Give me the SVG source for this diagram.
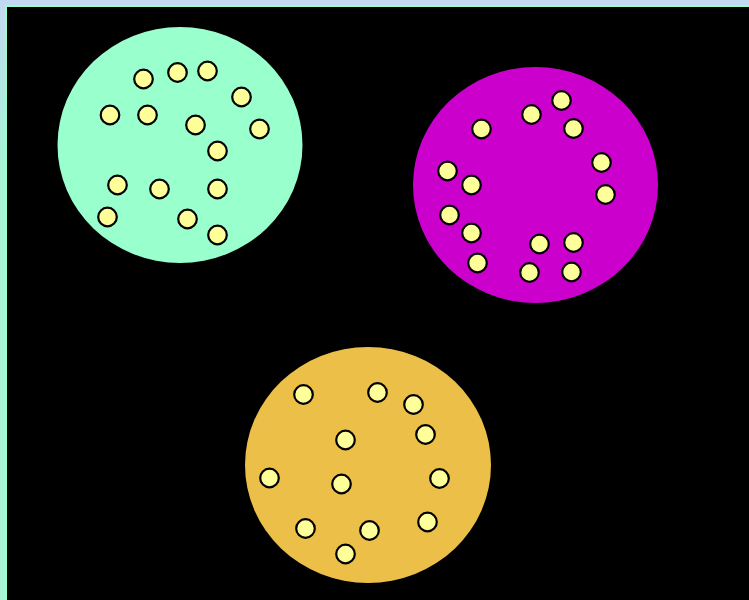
<svg xmlns="http://www.w3.org/2000/svg" width="749" height="600" viewBox="0 0 749 600">
<defs>
<linearGradient id="bg" x1="0" y1="0" x2="0" y2="1">
<stop offset="0" stop-color="#c4d8f2"/>
<stop offset="0.25" stop-color="#a8f2d8"/>
<stop offset="1" stop-color="#a8f2d8"/>
</linearGradient>
<style>
.dot{fill:#ffff99;stroke:#000;stroke-width:2.2}
</style>
</defs>
<rect x="0" y="0" width="749" height="600" fill="url(#bg)"/>
<rect x="5" y="5" width="744" height="595" fill="#99ffcc"/>
<rect x="7" y="7" width="742" height="593" fill="#000"/>
<g id="cluster-green">
<ellipse cx="180" cy="145" rx="122.5" ry="118" fill="#99ffcc"/>
<circle class="dot" cx="143.5" cy="79" r="9.3"/>
<circle class="dot" cx="177.5" cy="72.5" r="9.3"/>
<circle class="dot" cx="207.5" cy="71" r="9.3"/>
<circle class="dot" cx="241.5" cy="97" r="9.3"/>
<circle class="dot" cx="259.5" cy="129" r="9.3"/>
<circle class="dot" cx="110" cy="115" r="9.3"/>
<circle class="dot" cx="147.5" cy="115" r="9.3"/>
<circle class="dot" cx="195.5" cy="125" r="9.3"/>
<circle class="dot" cx="217.5" cy="151" r="9.3"/>
<circle class="dot" cx="117.5" cy="185" r="9.3"/>
<circle class="dot" cx="159.5" cy="189" r="9.3"/>
<circle class="dot" cx="217.5" cy="189" r="9.3"/>
<circle class="dot" cx="107.5" cy="217" r="9.3"/>
<circle class="dot" cx="187.5" cy="219" r="9.3"/>
<circle class="dot" cx="217.5" cy="235" r="9.3"/>
</g>
<g id="cluster-purple">
<ellipse cx="535.5" cy="185" rx="122.5" ry="118" fill="#cc00cc"/>
<circle class="dot" cx="561.5" cy="100.5" r="9.3"/>
<circle class="dot" cx="531.5" cy="114.5" r="9.3"/>
<circle class="dot" cx="481.5" cy="129" r="9.3"/>
<circle class="dot" cx="573.5" cy="128.5" r="9.3"/>
<circle class="dot" cx="601.5" cy="162.5" r="9.3"/>
<circle class="dot" cx="605.5" cy="194.5" r="9.3"/>
<circle class="dot" cx="447.5" cy="171" r="9.3"/>
<circle class="dot" cx="471.5" cy="185" r="9.3"/>
<circle class="dot" cx="449.5" cy="215" r="9.3"/>
<circle class="dot" cx="471.5" cy="233" r="9.3"/>
<circle class="dot" cx="477.5" cy="263" r="9.3"/>
<circle class="dot" cx="539.5" cy="244" r="9.3"/>
<circle class="dot" cx="573.5" cy="242.5" r="9.3"/>
<circle class="dot" cx="529.5" cy="272.5" r="9.3"/>
<circle class="dot" cx="571.5" cy="272" r="9.3"/>
</g>
<g id="cluster-orange">
<ellipse cx="368" cy="465" rx="123" ry="118" fill="#ecbf48"/>
<circle class="dot" cx="303.5" cy="394.5" r="9.3"/>
<circle class="dot" cx="377.5" cy="392.5" r="9.3"/>
<circle class="dot" cx="413.5" cy="404.5" r="9.3"/>
<circle class="dot" cx="345.5" cy="440" r="9.3"/>
<circle class="dot" cx="425.5" cy="434.5" r="9.3"/>
<circle class="dot" cx="269.5" cy="478" r="9.3"/>
<circle class="dot" cx="341.5" cy="484" r="9.3"/>
<circle class="dot" cx="439.5" cy="478.5" r="9.3"/>
<circle class="dot" cx="305.5" cy="528.5" r="9.3"/>
<circle class="dot" cx="369.5" cy="530.5" r="9.3"/>
<circle class="dot" cx="427.5" cy="522" r="9.3"/>
<circle class="dot" cx="345.5" cy="554" r="9.3"/>
</g>
<g id="connectors"></g>
</svg>
